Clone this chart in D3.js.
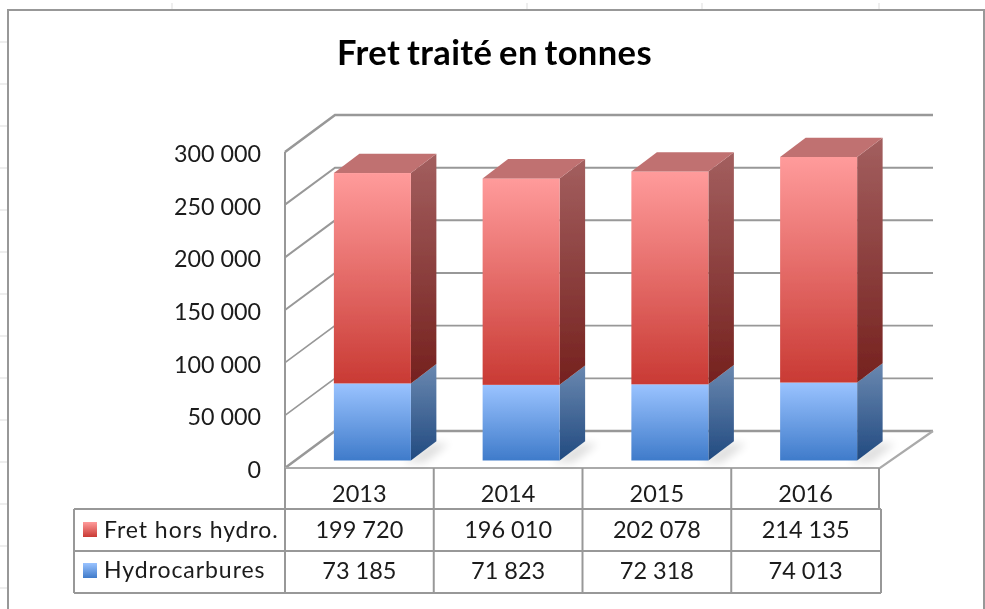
<!DOCTYPE html>
<html><head><meta charset="utf-8">
<script src="https://cdn.jsdelivr.net/npm/d3@7"></script>
<style>html,body{margin:0;background:#fff}svg{display:block}text{font-family:Lato,"Noto Sans",sans-serif;fill:#1a1a1a}</style>
</head><body><div id="c"></div>
<script>
const categories=["2013","2014","2015","2016"];
const hydrocarbures=[73185,71823,72318,74013];
const fretHors=[199720,196010,202078,214135];
const seriesNames=["Hydrocarbures","Fret hors hydro."];
const yTicks=[0,50000,100000,150000,200000,250000,300000];
const fmt=v=>d3.format(",")(v).replace(/,/g," ");
const W=985,H=609;
const svg=d3.select("#c").append("svg").attr("width",W).attr("height",H);
const defs=svg.append("defs");
function grad(id,a,b){const g=defs.append("linearGradient").attr("id",id).attr("x1",0).attr("y1",0).attr("x2",0).attr("y2",1);
 g.append("stop").attr("offset",0).attr("stop-color",a);g.append("stop").attr("offset",1).attr("stop-color",b);}
grad("fr","#ff9b9b","#c93a34");grad("sr","#a35f5f","#75211e");
grad("fb","#9ac3ff","#3f7bca");grad("sb","#6a88b0","#214a80");
defs.append("filter").attr("id","soft").append("feGaussianBlur").attr("stdDeviation",0.6);
defs.append("filter").attr("id","shadow").attr("x","-50%").attr("y","-50%").attr("width","200%").attr("height","200%").append("feGaussianBlur").attr("stdDeviation",4);
const root=svg.append("g").attr("filter","url(#soft)");
const line="#989898";
root.selectAll(".tx").data([172,527,702,879]).join("line").attr("x1",d=>d).attr("x2",d=>d).attr("y1",3).attr("y2",10).attr("stroke","#ddd");
root.selectAll(".ty").data([42,84,126,168,210,252,294,336,378,420,462,504,546,588]).join("line").attr("x1",0).attr("x2",8).attr("y1",d=>d).attr("y2",d=>d).attr("stroke","#ddd");
root.append("path").attr("d","M8,609V10H984V609").attr("fill","none").attr("stroke",line).attr("stroke-width",2);
root.append("text").attr("x",494.5).attr("y",65).attr("text-anchor","middle").attr("font-size",34.5).attr("font-weight",700).attr("letter-spacing",.4).attr("word-spacing",-2).style("fill","#000").text("Fret traité en tonnes");

const x=d3.scaleBand().domain(categories).range([285,880]);
const y=d3.scaleLinear().domain([0,300000]).range([468,152]);
const depth={dx:50,dy:-37};
const grid=root.append("g");
yTicks.forEach(t=>{
 const yy=y(t),sw=t==0||t==300000?2.6:(t==50000||t==100000?1.6:2);
 grid.append("path").attr("d",`M${x.range()[0]},${yy}l${depth.dx},${depth.dy}H933`).attr("fill","none").attr("stroke",line).attr("stroke-width",sw);
});
grid.append("line").attr("x1",285).attr("x2",285).attr("y1",y(300000)).attr("y2",y(0)).attr("stroke",line).attr("stroke-width",2);
grid.append("path").attr("d",`M285,${y(0)}H880L933,431`).attr("fill","none").attr("stroke","#aaa").attr("stroke-width",2.2);
const ax=d3.axisLeft(y).tickValues(yTicks).tickFormat(fmt).tickSize(0).tickPadding(0);
const axG=root.append("g").attr("transform","translate(261,2)").call(ax);
axG.select(".domain").remove();
axG.selectAll("text").attr("font-size",23.3).style("font-family","Lato,sans-serif");
const rows=categories.map((c,i)=>({cat:c,h:hydrocarbures[i],f:fretHors[i]}));
const stack=d3.stack().keys(["h","f"])(rows);
const bw=77,off={dx:13,dy:-7.5},bd={dx:25.5,dy:-19.3};
const bx=c=>x(c)+x.bandwidth()/2+off.dx-bw/2;
const by=v=>y(v)+off.dy;
const shadowG=root.append("g");
categories.forEach(c=>{
 const l=bx(c)+bw-8,b=by(0);
 shadowG.append("polygon").attr("points",[[l,b+2],[l+28,b-17],[l+46,b-17],[l+22,b+2]].join(" ")).attr("fill","#000").attr("opacity",.13).attr("filter","url(#shadow)");
});
const cols=[["fb","sb"],["fr","sr"]];
stack.forEach((s,si)=>{
 const g=root.append("g");
 s.forEach(d=>{
  const c=d.data.cat,l=bx(c),t=by(d[1]),b=by(d[0]);
  g.append("polygon").attr("points",[[l+bw,t],[l+bw+bd.dx,t+bd.dy],[l+bw+bd.dx,b+bd.dy],[l+bw,b]].join(" ")).attr("fill",`url(#${cols[si][1]})`);
  g.append("rect").attr("x",l).attr("y",t).attr("width",bw).attr("height",b-t).attr("fill",`url(#${cols[si][0]})`);
  if(si==1) g.append("polygon").attr("points",[[l,t],[l+bd.dx,t+bd.dy],[l+bw+bd.dx,t+bd.dy],[l+bw,t]].join(" ")).attr("fill","#c07171");
 });
});
const tb=root.append("g");
const tl=74,tr=881,r0=509,rh=42;
const tline=(a,b,c,d)=>tb.append("line").attr("x1",a).attr("y1",b).attr("x2",c).attr("y2",d).attr("stroke",line).attr("stroke-width",2);
tline(tl,r0,tr,r0);tline(tl,r0+rh,tr,r0+rh);tline(tl,r0+2*rh,tr,r0+2*rh);
tline(tl,r0,tl,r0+2*rh);tline(tr,r0,tr,r0+2*rh);
categories.forEach(c=>{const xx=x(c);tline(xx,468,xx,r0+2*rh);});
tline(879,468,879,r0);
const cell=(t,xx,yy,anchor,fs)=>tb.append("text").attr("x",xx).attr("y",yy).attr("text-anchor",anchor||"middle").attr("font-size",fs||23.5).text(t);
categories.forEach((c,i)=>{
 const m=x(c)+x.bandwidth()/2;
 cell(c,m,502);
 cell(fmt(fretHors[i]),m,538);
 cell(fmt(hydrocarbures[i]),m,579);
});
[[seriesNames[1],"fr",538,530],[seriesNames[0],"fb",578,571]].forEach(([n,g,ty,sy])=>{
 tb.append("rect").attr("x",83).attr("y",sy-8).attr("width",14).attr("height",15).attr("fill",`url(#${g})`);
 cell(n,104,ty,"start",23).attr("letter-spacing",.95);
});
</script></body></html>
